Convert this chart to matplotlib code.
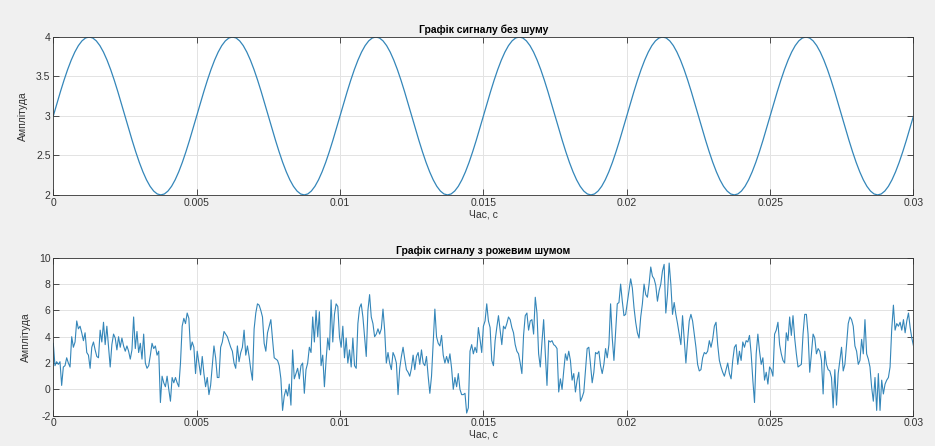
import numpy as np
import matplotlib
matplotlib.use("Agg")
import matplotlib.pyplot as plt

plt.rcParams['font.family'] = ['Liberation Sans', 'DejaVu Sans']

# ---------------- data ----------------
title_top = "Графік сигналу без шуму"
title_bot = "Графік сигналу з рожевим шумом"
xlabel = "Час, с"
ylabel = "Амплітуда"

x_ticks = [0, 0.005, 0.01, 0.015, 0.02, 0.025, 0.03]
x_tick_labels = ["0", "0.005", "0.01", "0.015", "0.02", "0.025", "0.03"]
y_ticks_top = [2, 2.5, 3, 3.5, 4]
y_tick_labels_top = ["2", "2.5", "3", "3.5", "4"]
y_ticks_bot = [-2, 0, 2, 4, 6, 8, 10]
y_tick_labels_bot = ["-2", "0", "2", "4", "6", "8", "10"]

# clean signal: one period of sampled values read from the top chart,
# the chart shows six identical periods
clean_period = [
    3.000, 3.156, 3.309, 3.454, 3.588, 3.707, 3.809, 3.891, 3.951, 3.988,
    4.000, 3.988, 3.951, 3.891, 3.809, 3.707, 3.588, 3.454, 3.309, 3.156,
    3.000, 2.844, 2.691, 2.546, 2.412, 2.293, 2.191, 2.109, 2.049, 2.012,
    2.000, 2.012, 2.049, 2.109, 2.191, 2.293, 2.412, 2.546, 2.691, 2.844,
]
n_periods = 6
clean = clean_period * n_periods + [3.000]

# noisy signal, values, left to right
noisy_a = [
    3.5, 1.8, 2.1, 1.9, 2.1, 0.3, 1.7, 1.8, 2.4, 2.0, 1.7, 4.0, 3.2, 3.6, 5.2,
    4.6, 4.8, 4.3, 3.7, 4.3, 2.8, 2.6, 1.6, 3.2, 3.6, 3.0, 2.5, 2.4, 4.5, 3.6,
    5.1, 3.4, 4.8, 3.2, 1.7, 3.4, 4.2, 3.9, 3.0, 4.0, 3.2, 3.9, 3.3, 2.9, 3.3,
    2.9, 2.3, 3.0, 5.5, 3.1, 4.4, 2.8, 3.5, 2.3, 4.2, 2.0, 1.6, 1.8, 2.6, 3.5,
    3.1, 3.3, 2.6, 2.9, -1.0, 1.0, 0.5, 0.2, 1.0, 0.0, -0.9, 0.9, 0.5, 0.9, 0.5,
    0.2, 2.0, 4.8, 5.4, 5.0, 5.8, 5.4, 3.0, 3.6, 3.2, 1.2, 2.9, 2.0, 1.1, 2.5,
    1.2, 0.2, 0.9, -0.4, 0.3, 1.8, 3.3, 2.4, 0.9, 0.9, 3.2, 3.6, 4.4, 4.2, 4.0,
    3.6, 3.2, 2.9, 2.0, 1.6, 3.3, 2.1, 2.8, 3.2, 4.5, 2.6, 3.3, 2.5, 1.5, 0.7,
    4.6, 5.8, 6.5, 6.4, 6.0, 5.5, 3.5, 2.9, 4.3, 4.8, 5.3, 3.8, 2.4, 2.3, 2.2,
    1.8, 0.8, -1.6, -0.5, 0.0, -0.5, 0.4, -1.2, 3.0, 0.8, 1.2, 1.6, 0.8, 1.8, 2.0,
    -0.3, 1.5, 2.0, 3.2, 2.8, 5.5, 3.6, 6.0, 4.0, 5.9, 1.8, 2.6, 0.2, 2.2, 3.9,
    3.0, 6.8, 3.6, 5.7, 6.5, 6.3, 4.0, 3.2, 4.8, 2.4, 3.9, 2.0, 3.0, 1.7, 3.9,
    1.8, 1.6, 5.0, 6.2, 6.5, 5.5, 4.0, 2.5, 6.0, 7.2, 5.5, 5.0, 4.0, 4.2, 4.6,
    4.2, 4.6, 6.1, 4.5, 2.0, 2.8, 2.0, 1.5, 2.8, 2.5, 2.0, -0.4, 1.6, 2.5, 3.2,
    2.3, 1.5, 1.3, 1.0, 1.6, 2.6, 1.5, 2.5, 2.8, 1.9, 3.0, 2.0, 1.8, 2.5, 1.0,
    -0.3, 1.0, 3.6, 6.1, 4.0, 3.5, 3.3, 4.1, 2.6, 2.0, 2.5, 2.0, 2.7, 1.6, 0.0,
    0.9, 0.2, 1.2, 0.0, -0.4, -0.4, -0.3, -1.8,
]
noisy_b = [
    -1.4, 2.9, 3.4, 2.7, 3.2, 2.8, 4.7, 3.8, 2.8, 4.8, 5.2, 6.5,
]
noisy_c = [
    5.2, 4.7, 2.2, 1.8, 3.7, 4.7, 5.6, 4.5, 3.4, 4.8, 4.6, 5.0, 5.5, 5.3, 4.7,
    4.3, 3.4, 2.9, 2.7, 2.0, 1.2, 4.1, 5.6, 5.8, 4.5, 5.2, 5.3, 4.2, 7.0, 5.8,
    2.7, 1.7, 3.6, 5.3, 2.7, 0.3, 3.7, 3.6, 3.7, 3.4, 3.3, 3.1, -0.2, 0.8, 0.0,
    1.4, 2.7, 2.2, 2.9, 2.2, 0.7, 1.2, -0.2, 0.7, 1.3, -0.9, -0.6, -0.2, 1.5, 3.1,
    3.2, 1.9, 0.5, 1.3, 2.8, 2.7,
]
noisy_d = [
    2.9, 1.8, 1.2, 1.9, 3.1, 2.4, 3.4, 6.5, 3.9, 2.2, 4.3, 6.5, 6.6, 8.0, 6.7,
    5.6, 5.7, 6.6, 7.5, 8.4, 7.7, 6.2, 5.1, 4.3, 3.9, 5.5, 6.5, 8.0, 7.2, 7.0,
    8.0, 9.3, 8.6, 8.4, 7.9, 6.7, 7.5, 8.0, 9.0, 9.5, 5.8, 7.2, 9.6, 8.0, 5.7,
    6.6, 5.7, 5.0, 4.2, 3.4, 5.6, 3.8, 2.0, 3.7, 5.2, 5.7, 5.2, 4.2, 3.2, 1.9,
    1.4, 1.5, 2.4, 2.8, 2.7, 2.9,
]
noisy_e = [
    3.7, 3.2, 3.8, 4.8, 5.1, 3.4, 2.2, 1.7, 1.3, 1.0, 1.5, 2.0, 1.2, 0.8, 2.2,
    3.2, 3.4, 1.9, 2.9, 2.2, 3.6, 3.2, 3.7, 3.6, 4.1, 2.7, 0.7, -1.0, 2.7, 4.2,
    2.9, 1.9, 2.4, 0.7, 1.3, 0.4, 1.7, 1.5, 1.0, 4.2, 4.5, 5.1, 3.4, 2.7, 2.2,
    2.0, 4.3, 3.7, 5.5, 4.1, 5.6, 3.9, 2.7, 1.7, 1.8, 1.9, 4.2, 5.7, 5.7, 4.2,
]
noisy_f = [
    1.3, 2.7, 4.2, 3.9, 2.7, 3.1, 2.9, 2.2, -0.35, 2.9, 1.9, 1.5, 1.4, 0.9, -1.4,
    1.5, -1.2, 1.2, 2.2, 3.2, 1.4, 1.9, 3.4, 5.0, 5.5, 5.3, 4.8, 3.3, 2.9, 1.9,
    2.2, 3.8, 2.7, 5.3, 2.7, 2.3, 1.7, 0.15, -0.9, 0.9, -1.6, 1.2, -1.6, 0.7, -0.35,
    0.4, 0.7, 0.9, 1.7, 4.6, 6.4, 4.5, 5.0, 4.8, 5.1, 4.5, 5.3, 4.3, 5.2, 5.8,
    4.7, 3.9, 3.3,
]

noisy = np.array(noisy_a + noisy_b + noisy_c + noisy_d + noisy_e + noisy_f)
clean = np.array(clean)
t_clean = np.linspace(0, 0.03, len(clean))
t_noisy = np.linspace(0, 0.03, len(noisy))

# ---------------- style ----------------
line_color = '#3486b9'
fig = plt.figure(figsize=(9.35, 4.46), dpi=100, facecolor='#f0f0f0')

left, width = 0.057, 0.920
ax1 = fig.add_axes([left, 0.563, width, 0.354])
ax2 = fig.add_axes([left, 0.068, width, 0.354])

def style(ax, yticks, ylabels, ylim):
    ax.set_facecolor('white')
    ax.set_xlim(0, 0.03)
    ax.set_ylim(*ylim)
    ax.set_xticks(x_ticks)
    ax.set_xticklabels(x_tick_labels)
    ax.set_yticks(yticks)
    ax.set_yticklabels(ylabels)
    ax.grid(True, color='#e3e3e3', linewidth=0.7)
    ax.set_axisbelow(True)
    ax.tick_params(direction='in', length=4, width=0.6, labelsize=7.5,
                   colors='#333333', top=True, right=True, pad=2)
    for s in ax.spines.values():
        s.set_color('#333333')
        s.set_linewidth(0.6)
    ax.set_xlabel(xlabel, fontsize=7.5, color='#333333', labelpad=1)
    ax.set_ylabel(ylabel, fontsize=7.5, color='#333333', labelpad=6)

ax1.plot(t_clean, clean, color=line_color, linewidth=0.9)
style(ax1, y_ticks_top, y_tick_labels_top, (2, 4))
ax1.set_title(title_top, fontsize=7.5, fontweight='bold', pad=3)

ax2.plot(t_noisy, noisy, color=line_color, linewidth=0.8)
style(ax2, y_ticks_bot, y_tick_labels_bot, (-2, 10))
ax2.set_title(title_bot, fontsize=7.5, fontweight='bold', pad=3)

fig.savefig('out.png', dpi=100, facecolor=fig.get_facecolor())
